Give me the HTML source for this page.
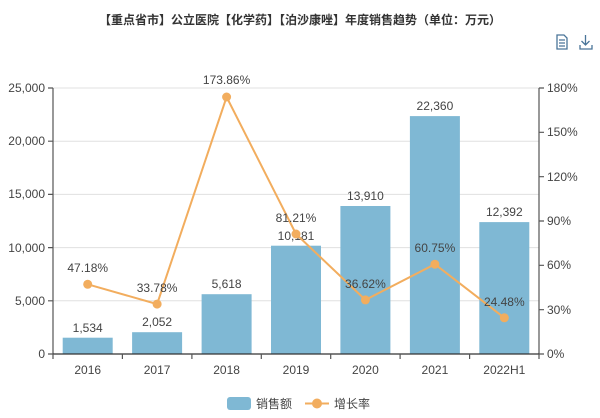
<!DOCTYPE html>
<html><head><meta charset="utf-8"><style>
body{margin:0;background:#fff;}
svg{display:block;font-family:"Liberation Sans","Noto Sans CJK SC",sans-serif;}
</style></head><body>
<svg width="600" height="418" viewBox="0 0 600 418">
<text x="300" y="24" text-anchor="middle" font-size="12" font-weight="bold" fill="#333">【重点省市】公立医院【化学药】【泊沙康唑】年度销售趋势（单位：万元）</text>
<g stroke="#4a7599" fill="none" stroke-width="1.3">
<path d="M557 35h7l3 3v11h-10z M559 40h6 M559 43h6 M559 46h6"/>
<path d="M585.5 35v10 M581.5 41l4 4 4-4 M580 45v4h12v-4"/>
</g>
<g stroke="#e0e0e0" stroke-width="1">
<line x1="53" x2="539" y1="88" y2="88"/><line x1="53" x2="539" y1="141.2" y2="141.2"/>
<line x1="53" x2="539" y1="194.4" y2="194.4"/><line x1="53" x2="539" y1="247.6" y2="247.6"/>
<line x1="53" x2="539" y1="300.8" y2="300.8"/>
</g>
<g fill="#7fb8d4">
<rect x="62.7" y="337.7" width="50" height="16.3"/>
<rect x="132.1" y="332.2" width="50" height="21.8"/>
<rect x="201.6" y="294.2" width="50" height="59.8"/>
<rect x="271" y="245.7" width="50" height="108.3"/>
<rect x="340.4" y="206" width="50" height="148"/>
<rect x="409.9" y="116.1" width="50" height="237.9"/>
<rect x="479.3" y="222.1" width="50" height="131.9"/>
</g>
<g stroke="#555" stroke-width="1.2" fill="none">
<line x1="53" y1="88" x2="53" y2="354"/>
<line x1="539" y1="88" x2="539" y2="354"/>
<line x1="53" y1="354" x2="539" y2="354" stroke="#333"/>
<path d="M48 88h5M48 141.2h5M48 194.4h5M48 247.6h5M48 300.8h5M48 354h5"/>
<path d="M539 88h5M539 132.3h5M539 176.7h5M539 221h5M539 265.3h5M539 309.7h5M539 354h5"/>
<path d="M53 354v5M122.4 354v5M191.9 354v5M261.3 354v5M330.7 354v5M400.1 354v5M469.6 354v5M539 354v5"/>
</g>
<g font-size="12" fill="#444" text-anchor="end">
<text x="45" y="92">25,000</text><text x="45" y="145">20,000</text><text x="45" y="198">15,000</text>
<text x="45" y="252">10,000</text><text x="45" y="305">5,000</text><text x="45" y="358">0</text>
</g>
<g font-size="12" fill="#444">
<text x="547" y="92">180%</text><text x="547" y="136">150%</text><text x="547" y="181">120%</text>
<text x="547" y="225">90%</text><text x="547" y="269">60%</text><text x="547" y="314">30%</text><text x="547" y="358">0%</text>
</g>
<g font-size="12" fill="#444" text-anchor="middle">
<text x="87.7" y="374">2016</text><text x="157.1" y="374">2017</text><text x="226.6" y="374">2018</text>
<text x="296" y="374">2019</text><text x="365.4" y="374">2020</text><text x="434.9" y="374">2021</text><text x="504.3" y="374">2022H1</text>
</g>
<g font-size="12" fill="#444" text-anchor="middle">
<text x="87.7" y="332">1,534</text><text x="157.1" y="326">2,052</text><text x="226.6" y="288">5,618</text>
<text x="296" y="240">10,181</text><text x="365.4" y="200">13,910</text><text x="434.9" y="110">22,360</text><text x="504.3" y="216">12,392</text>
</g>
<polyline fill="none" stroke="#f2ad5e" stroke-width="2" points="87.7,284.3 157.1,304.1 226.6,97 296,234 365.4,299.9 434.9,264.2 504.3,317.8"/>
<g fill="#f2ad5e">
<circle cx="87.7" cy="284.3" r="4.5"/><circle cx="157.1" cy="304.1" r="4.5"/><circle cx="226.6" cy="97" r="4.5"/>
<circle cx="296" cy="234" r="4.5"/><circle cx="365.4" cy="299.9" r="4.5"/><circle cx="434.9" cy="264.2" r="4.5"/><circle cx="504.3" cy="317.8" r="4.5"/>
</g>
<g font-size="12" fill="#444" text-anchor="middle">
<text x="87.7" y="272">47.18%</text><text x="157.1" y="292">33.78%</text><text x="226.6" y="84">173.86%</text>
<text x="296" y="222">81.21%</text><text x="365.4" y="288">36.62%</text><text x="434.9" y="252">60.75%</text><text x="504.3" y="306">24.48%</text>
</g>
<rect x="227" y="397" width="24" height="13" rx="3" fill="#7fb8d4"/>
<text x="256" y="408" font-size="12" fill="#444">销售额</text>
<line x1="305" y1="403.5" x2="329" y2="403.5" stroke="#f2ad5e" stroke-width="2"/>
<circle cx="317" cy="403.5" r="5" fill="#f2ad5e"/>
<text x="334" y="408" font-size="12" fill="#444">增长率</text>
</svg>
</body></html>
